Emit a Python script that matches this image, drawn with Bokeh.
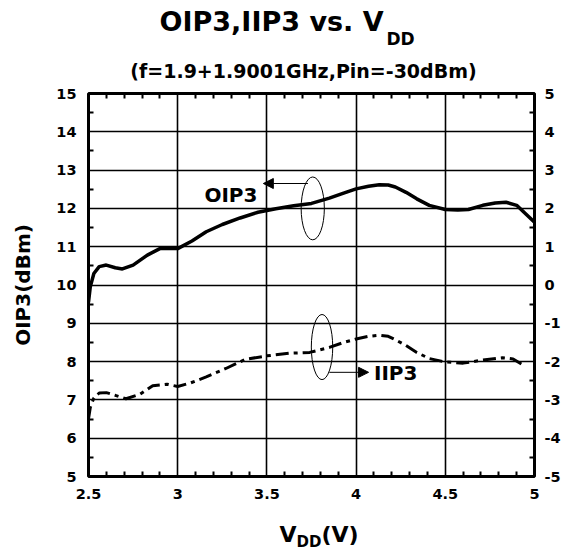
from bokeh.plotting import figure
from bokeh.layouts import column
from bokeh.models import (Range1d, LinearAxis, FixedTicker, Label, Arrow, NormalHead)
from bokeh.embed import file_html
from bokeh.resources import INLINE

# ---- data ----
vdd_oip3 = [2.50, 2.51, 2.53, 2.56, 2.60, 2.65, 2.69, 2.75, 2.83, 2.90, 3.00, 3.08, 3.16,
            3.25, 3.35, 3.45, 3.55, 3.65, 3.75, 3.85, 3.93, 4.00, 4.07, 4.13, 4.18, 4.22,
            4.28, 4.34, 4.41, 4.50, 4.57, 4.63, 4.71, 4.78, 4.84, 4.90, 4.95, 5.00]
oip3 = [9.55, 9.95, 10.30, 10.48, 10.52, 10.45, 10.42, 10.52, 10.78, 10.95, 10.95, 11.15, 11.39,
        11.58, 11.75, 11.90, 11.99, 12.07, 12.13, 12.27, 12.40, 12.51, 12.58, 12.62, 12.61, 12.56,
        12.42, 12.25, 12.08, 11.97, 11.96, 11.97, 12.08, 12.14, 12.16, 12.08, 11.86, 11.64]

vdd_iip3 = [2.50, 2.51, 2.53, 2.56, 2.60, 2.65, 2.71, 2.79, 2.86, 2.94, 3.00, 3.07, 3.16,
            3.27, 3.38, 3.50, 3.63, 3.74, 3.85, 3.93, 4.00, 4.07, 4.13, 4.18, 4.22, 4.28,
            4.34, 4.41, 4.50, 4.60, 4.71, 4.82, 4.88, 4.94]
iip3 = [-3.50, -3.20, -2.95, -2.82, -2.81, -2.88, -2.97, -2.85, -2.63, -2.59, -2.65, -2.56, -2.40,
        -2.18, -1.94, -1.85, -1.78, -1.76, -1.63, -1.50, -1.41, -1.34, -1.31, -1.34, -1.43, -1.58,
        -1.76, -1.92, -2.01, -2.04, -1.96, -1.90, -1.93, -2.10]

x_ticks = [2.5, 3.0, 3.5, 4.0, 4.5, 5.0]
x_tick_labels = ["2.5", "3", "3.5", "4", "4.5", "5"]
x_minor = [2.6, 2.7, 2.8, 2.9, 3.1, 3.2, 3.3, 3.4, 3.6, 3.7, 3.8, 3.9,
           4.1, 4.2, 4.3, 4.4, 4.6, 4.7, 4.8, 4.9]
yl_ticks = [5, 6, 7, 8, 9, 10, 11, 12, 13, 14, 15]
yl_minor = [5.5, 6.5, 7.5, 8.5, 9.5, 10.5, 11.5, 12.5, 13.5, 14.5]
yr_ticks = [-5, -4, -3, -2, -1, 0, 1, 2, 3, 4, 5]
yr_tick_labels = ["-5", "-4", "-3", "-2", "-1", "0", "1", "2", "3", "4", "5"]
yr_minor = [-4.5, -3.5, -2.5, -1.5, -0.5, 0.5, 1.5, 2.5, 3.5, 4.5]

title_main = "OIP3,IIP3 vs. V"
title_sub = "DD"
subtitle = "(f=1.9+1.9001GHz,Pin=-30dBm)"
ylabel = "OIP3(dBm)"
xlabel_main = "V"
xlabel_sub = "DD"
xlabel_unit = "(V)"

# annotation geometry (data units of the left axis)
oip3_ellipse = dict(x=3.757, y=12.0, w=0.13, h=1.64)
iip3_ellipse = dict(x=3.809, y=8.38, w=0.12, h=1.70)

FONT = "DejaVu Sans"
W = 569
TOP_H, MAIN_H, BOT_H = 86, 428, 38


def text_fig(h):
    f = figure(width=W, height=h, output_backend="svg", toolbar_location=None,
               x_axis_type=None, y_axis_type=None, min_border=0,
               x_range=Range1d(0, W), y_range=Range1d(h, 0),
               background_fill_color="white", border_fill_color="white")
    f.outline_line_color = None
    return f


def lab(fig, text, x, y, size, align="left", units="canvas"):
    fig.add_layout(Label(x=x, y=y, text=text, text_font=FONT, text_font_style="bold",
                         text_font_size=size, text_color="black",
                         text_align=align, text_baseline="alphabetic",
                         x_units=units, y_units=units))


# ---- title block ----
pt = text_fig(TOP_H)
lab(pt, title_main, 159, 21, "27px")
lab(pt, title_sub, 386, 38, "17px")
lab(pt, subtitle, 303, 70, "19px", align="center")

# ---- main plot ----
p = figure(width=W, height=MAIN_H, output_backend="svg", toolbar_location=None,
           x_range=Range1d(2.5, 5.0), y_range=Range1d(5, 15),
           min_border_left=88, min_border_right=35, min_border_top=7, min_border_bottom=38,
           background_fill_color="white", border_fill_color="white")
p.extra_y_ranges = {"right": Range1d(-5, 5)}

p.outline_line_color = "black"
p.outline_line_width = 3
p.outline_line_alpha = 1

xt = FixedTicker(ticks=x_ticks, minor_ticks=x_minor)
ylt = FixedTicker(ticks=yl_ticks, minor_ticks=yl_minor)
yrt = FixedTicker(ticks=yr_ticks, minor_ticks=yr_minor)


def style_axis(ax, labels=True, standoff=12):
    ax.axis_line_color = None
    ax.major_tick_in = 0
    ax.major_tick_out = 0
    ax.minor_tick_in = 5
    ax.minor_tick_out = 0
    ax.minor_tick_line_width = 2
    ax.minor_tick_line_color = "black"
    ax.major_label_text_font = FONT
    ax.major_label_text_font_style = "bold"
    ax.major_label_text_font_size = "14.5px"
    ax.major_label_text_color = "black"
    ax.major_label_standoff = standoff
    if not labels:
        ax.major_label_text_font_size = "0px"
        ax.major_label_text_color = None


xa = p.xaxis[0]
xa.ticker = xt
style_axis(xa, standoff=12)
xa.major_label_overrides = dict(zip(x_ticks, x_tick_labels))

ya = p.yaxis[0]
ya.ticker = ylt
style_axis(ya, standoff=12)
ya.axis_label = ylabel
ya.axis_label_text_font = FONT
ya.axis_label_text_font_style = "bold"
ya.axis_label_text_font_size = "20px"
ya.axis_label_text_color = "black"
ya.axis_label_standoff = 18

top = LinearAxis(ticker=xt)
style_axis(top, labels=False, standoff=0)
p.add_layout(top, "above")

right = LinearAxis(y_range_name="right", ticker=yrt)
style_axis(right, standoff=10)
right.major_label_overrides = dict(zip(yr_ticks, yr_tick_labels))
p.add_layout(right, "right")

p.xgrid.ticker = xt
p.ygrid.ticker = ylt
for g in (p.xgrid, p.ygrid):
    g.grid_line_color = "black"
    g.grid_line_width = 1.6
    g.grid_line_alpha = 1

# curves
p.line(vdd_oip3, oip3, line_color="black", line_width=3.5)
p.line(vdd_iip3, iip3, y_range_name="right", line_color="black", line_width=3,
       line_dash="13 5 4 5")

# ellipses
for e in (oip3_ellipse, iip3_ellipse):
    p.ellipse(x=[e["x"]], y=[e["y"]], width=[e["w"]], height=[e["h"]],
              fill_color=None, line_color="black", line_width=1)

# arrows
p.add_layout(Arrow(end=NormalHead(size=10, fill_color="black", line_color="black"),
                   x_start=3.73, y_start=12.65, x_end=3.48, y_end=12.65,
                   line_color="black", line_width=1))
p.add_layout(Arrow(end=NormalHead(size=10, fill_color="black", line_color="black"),
                   x_start=3.85, y_start=7.72, x_end=4.07, y_end=7.72,
                   line_color="black", line_width=1))

lab(p, "OIP3", 3.447, 12.36, "20px", align="right", units="data")
lab(p, "IIP3", 4.10, 7.71, "20px", units="data")

# ---- x-axis label block ----
pb = text_fig(BOT_H)
lab(pb, xlabel_main, 279, 20, "22px")
lab(pb, xlabel_sub, 296, 27, "15px")
lab(pb, xlabel_unit, 321, 20, "22px")

layout = column(pt, p, pb, spacing=0)
open("out.html", "w").write(file_html(layout, INLINE))
